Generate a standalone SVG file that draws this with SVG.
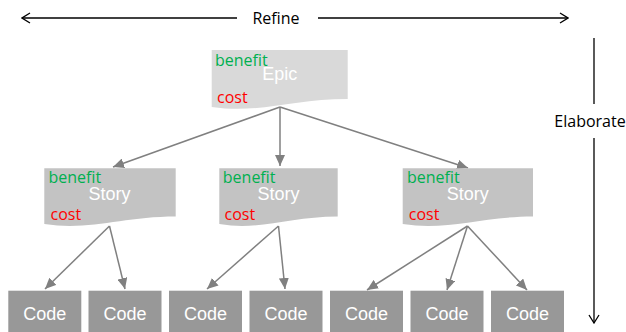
<svg xmlns="http://www.w3.org/2000/svg" width="626" height="332" viewBox="0 0 626 332">
<style>
.epic{fill:#d9d9d9}
.story{fill:#c3c3c3}
.code{fill:#989898}
.ben{font-family:"Open Sans","Liberation Sans",sans-serif;font-size:16px;fill:#00b050}
.cost{font-family:"Open Sans","Liberation Sans",sans-serif;font-size:16px;fill:#ff0000}
.title{font-family:"Liberation Sans",Arial,sans-serif;font-size:18px;fill:#ffffff;text-anchor:middle}
.axis{font-family:"Open Sans","Liberation Sans",sans-serif;font-size:16px;fill:#000000;text-anchor:middle}
.conn{stroke:#808080;stroke-width:1.5;fill:none;marker-end:url(#ah)}
.ax{stroke:#000;stroke-width:1.3;fill:none}
</style>
<defs>
<marker id="ah" markerWidth="12" markerHeight="10" refX="11" refY="5" orient="auto" markerUnits="userSpaceOnUse">
<path d="M0,0 L11,5 L0,10 Z" fill="#808080"/>
</marker>
<marker id="open" markerWidth="10" markerHeight="12" refX="9" refY="6" orient="auto" markerUnits="userSpaceOnUse">
<path d="M1,1 L9,6 L1,11" fill="none" stroke="#000" stroke-width="1.3"/>
</marker>
</defs>

<g id="refine">
<line class="ax" x1="237" y1="18" x2="22" y2="18" marker-end="url(#open)"/>
<line class="ax" x1="318" y1="18" x2="568" y2="18" marker-end="url(#open)"/>
<text class="axis" x="276" y="24">Refine</text>
</g>

<g id="elaborate">
<line class="ax" x1="594" y1="38" x2="594" y2="104"/>
<line class="ax" x1="594" y1="138" x2="594" y2="323" marker-end="url(#open)"/>
<text class="axis" x="590" y="127">Elaborate</text>
</g>

<g id="connectors">
<line class="conn" x1="280" y1="107" x2="113" y2="167"/>
<line class="conn" x1="280" y1="107" x2="280" y2="166"/>
<line class="conn" x1="280" y1="107" x2="468" y2="168"/>
<line class="conn" x1="109.5" y1="226" x2="45" y2="289"/>
<line class="conn" x1="109.5" y1="226" x2="125" y2="289"/>
<line class="conn" x1="278.5" y1="226" x2="207" y2="289"/>
<line class="conn" x1="278.5" y1="226" x2="285" y2="289"/>
<line class="conn" x1="467.5" y1="226" x2="367" y2="290"/>
<line class="conn" x1="467.5" y1="226" x2="447" y2="290"/>
<line class="conn" x1="467.5" y1="226" x2="527" y2="290"/>
</g>

<g id="epic">
<path class="epic" d="M211.7,50 H347.7 V99 C293,99 259,114 211.7,107 Z"/>
<text class="ben" x="215" y="66">benefit</text>
<text class="title" x="279.7" y="80">Epic</text>
<text class="cost" x="217" y="103">cost</text>
</g>

<g id="story1">
<path class="story" d="M44.3,168.3 H175.7 V216.5 C123,216.5 90,231 44.3,224 Z"/>
<text class="ben" x="48.5" y="182.5">benefit</text>
<text class="title" x="109.5" y="200">Story</text>
<text class="cost" x="50.5" y="220">cost</text>
</g>

<g id="story2">
<path class="story" d="M219.3,168.3 H337.7 V216.5 C290,216.5 260,231 219.3,224 Z"/>
<text class="ben" x="222.8" y="182.5">benefit</text>
<text class="title" x="278.5" y="200">Story</text>
<text class="cost" x="224.5" y="220">cost</text>
</g>

<g id="story3">
<path class="story" d="M402.7,168.3 H533 V216.5 C481,216.5 448,231 402.7,224 Z"/>
<text class="ben" x="407" y="182.5">benefit</text>
<text class="title" x="467.8" y="200">Story</text>
<text class="cost" x="408.8" y="220">cost</text>
</g>

<g id="code1"><rect class="code" x="8.3" y="290.7" width="73" height="45"/><text class="title" x="44.8" y="319.5">Code</text></g>
<g id="code2"><rect class="code" x="88.5" y="290.7" width="73" height="45"/><text class="title" x="125" y="319.5">Code</text></g>
<g id="code3"><rect class="code" x="169" y="290.7" width="73" height="45"/><text class="title" x="205.5" y="319.5">Code</text></g>
<g id="code4"><rect class="code" x="249.5" y="290.7" width="73" height="45"/><text class="title" x="286" y="319.5">Code</text></g>
<g id="code5"><rect class="code" x="330" y="290.7" width="73" height="45"/><text class="title" x="366.5" y="319.5">Code</text></g>
<g id="code6"><rect class="code" x="410.5" y="290.7" width="73" height="45"/><text class="title" x="447" y="319.5">Code</text></g>
<g id="code7"><rect class="code" x="491" y="290.7" width="73" height="45"/><text class="title" x="527.5" y="319.5">Code</text></g>
</svg>
